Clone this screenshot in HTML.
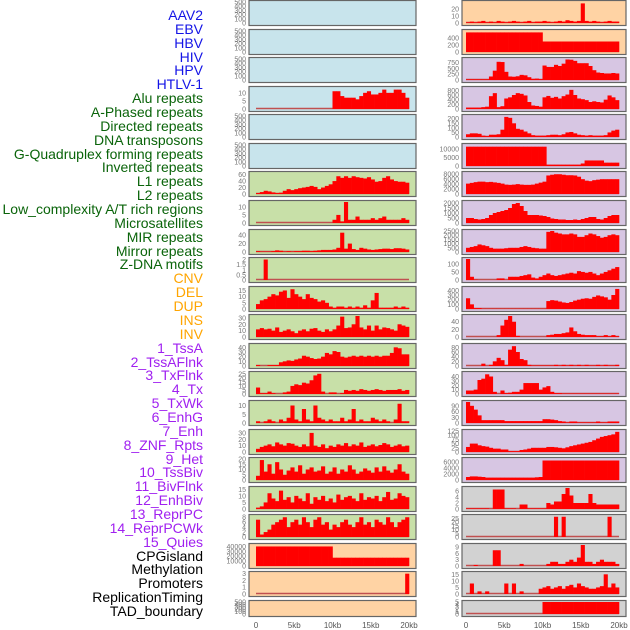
<!DOCTYPE html>
<html><head><meta charset="utf-8">
<style>
body{margin:0;background:#fff;width:630px;height:630px;overflow:hidden;position:relative;font-family:"Liberation Sans",sans-serif}
#labels div{position:absolute;right:427px;font-size:14px;line-height:14px;white-space:nowrap}
svg{position:absolute;left:0;top:0}
</style></head><body>
<div id="labels"></div>
<svg id="chart" width="630" height="630"></svg>
<script>
const trackNames=["AAV2","EBV","HBV","HIV","HPV","HTLV-1","Alu repeats","A-Phased repeats","Directed repeats","DNA transposons","G-Quadruplex forming repeats","Inverted repeats","L1 repeats","L2 repeats","Low_complexity A/T rich regions","Microsatellites","MIR repeats","Mirror repeats","Z-DNA motifs","CNV","DEL","DUP","INS","INV","1_TssA","2_TssAFlnk","3_TxFlnk","4_Tx","5_TxWk","6_EnhG","7_Enh","8_ZNF_Rpts","9_Het","10_TssBiv","11_BivFlnk","12_EnhBiv","13_ReprPC","14_ReprPCWk","15_Quies","CPGisland","Methylation","Promoters","ReplicationTiming","TAD_boundary"];
const labelGroups=[6,13,5,15,5];
const groupColors=["#1414e6","#0a640a","#ffa500","#a020f0","#000"];
const xTicks=[0,5,10,15,20];
const xTickLabels=["0","5kb","10kb","15kb","20kb"];
const Z=n=>Array(n).fill(0);
// left column
const leftMax=[500,500,500,13,500,500,65,13,50,2.05,17,33,45,26,12,33,20,16,8.5,43000,3.1,500];
const leftTicks=[[0,100,200,300,400,500],[0,100,200,300,400,500],[0,100,200,300,400,500],[0,5,10],[0,100,200,300,400,500],[0,100,200,300,400,500],[0,20,40,60],[0,5,10],[0,20,40],[0,0.5,1,1.5,2],[0,5,10,15],[0,10,20,30],[0,10,20,30,40],[0,5,10,15,20,25],[0,5,10],[0,10,20,30],[0,5,10,15,20],[0,5,10,15],[0,2,4,6,8],[0,10000,20000,30000,40000],[0,1,2,3],[0,100,200,300,400,500]];
const leftData=[Z(40),Z(40),Z(40),
Z(20).concat([11,11,8,7,7,7,6,8,10,11,9,9,10,12,10,10,12,12,10,7]),
Z(40),Z(40),
[3,6,10,8,5,3,4,10,15,12,15,18,20,22,25,22,15,20,25,30,40,55,50,55,50,55,52,50,48,52,45,38,40,50,55,45,40,38,38,35],
Z(20).concat([2,5,1,13,2,2,4,2,2,2,3,2,3,4,2,2,2,2,3,2]),
[2,1,1,1,2,4,3,1,2,1,2,2,3,3,2,3,4,5,5,5,6,10,46,8,20,7,5,10,8,6,5,6,7,8,8,7,9,9,8,6],
[0,0,2,0,0,0,0,0,0,0,0,0,0,0,0,0,0,0,0,0,0,0,0,0,0,0,0,0,0,0,0,0,0,0,0,0,0,0,0,0],
[4,7,8,10,12,11,14,15,9,16,12,10,8,12,9,8,6,7,5,2,1,2,2,1,2,1,2,1,3,1,7,13,1,1,1,1,2,1,2,1],
[12,14,12,13,10,15,8,10,12,9,6,10,12,9,13,14,10,8,12,9,12,18,32,14,15,20,33,15,12,18,10,18,12,15,14,12,10,20,18,16],
[2,0,0,2,2,2,8,10,12,11,14,16,22,20,17,15,16,20,28,25,32,30,20,18,20,22,20,22,20,22,20,22,20,22,22,28,40,38,25,25],
[8,1,1,3,1,0,0,2,3,10,12,11,14,13,17,23,25,3,0,2,2,0,1,5,4,5,4,6,5,4,5,6,5,4,5,5,5,6,4,5],
[1,0,1,2,1,0,2,1,3,10,2,1,8,2,1,10,3,2,1,2,1,1,3,1,2,8,1,2,1,1,3,2,1,2,1,0,2,11,1,1],
[5,8,10,12,9,15,12,10,14,13,10,8,12,9,30,10,8,12,6,10,8,12,10,14,9,12,10,15,8,10,12,9,11,14,12,8,10,12,9,10],
[4,19,8,15,6,17,10,5,9,12,8,14,6,10,12,8,9,13,6,8,12,6,10,8,14,10,6,8,11,9,7,12,8,13,9,7,10,15,8,6],
[1,2,5,12,8,6,14,7,9,5,10,8,6,12,4,9,7,10,6,8,5,11,7,9,10,8,6,12,7,9,8,10,6,9,13,7,8,12,10,9],
[7,1,2,3,5,6,7,8,4,6,7,5,8,6,4,7,8,5,6,3,5,4,6,7,5,4,6,8,5,6,4,7,6,5,8,6,4,6,7,8],
Array(20).fill(40000).concat(Array(20).fill(17000)),
Z(39).concat([3]),
Z(40)];
// right column
const rightMax=[30,600,900,900,230,12500,8500,2100,2500,130,450,55,90,48,110,125,7000,7,28,10,16,5];
const rightTicks=[[0,10,20],[0,200,400],[0,250,500,750],[0,200,400,600,800],[0,50,100,150,200],[0,5000,10000],[0,2000,4000,6000,8000],[0,500,1000,1500,2000],[0,500,1000,1500,2000,2500],[0,50,100],[0,100,200,300,400],[0,20,40],[0,20,40,60,80],[0,10,20,30,40],[0,30,60,90],[0,25,50,75,100,125],[0,2000,4000,6000],[0,2,4,6],[0,5,10,15,20,25],[0,3,6,9],[0,5,10,15],[0,1,2,3,4,5]];
const rightData=[
[1,2,1,2,3,1,2,1,3,2,1,2,3,2,1,2,3,1,2,2,3,2,1,2,3,2,4,3,2,3,28,3,2,3,2,1,2,3,2,2],
Array(20).fill(560).concat(Array(20).fill(300)),
[30,30,30,30,30,30,150,400,780,770,350,150,140,160,220,200,120,50,60,40,620,560,560,650,600,700,880,870,820,720,720,720,600,420,320,300,280,280,300,280],
[60,60,60,60,80,100,550,680,80,120,450,500,600,680,650,580,300,150,130,100,500,560,480,520,450,550,620,820,600,450,420,380,300,330,300,280,400,580,500,380],
[30,40,40,35,15,10,25,25,30,80,220,210,150,90,80,60,40,20,15,15,15,20,25,25,20,30,50,55,40,25,20,15,20,15,15,15,20,50,70,80],
Array(21).fill(11500).concat([800,800,800,800,800,800,800,800,800,1500,3300,3300,3300,3300,3300,2000,2000,2000,2000]),
[4200,4500,4800,5000,5000,4800,4900,4700,4500,4200,3800,3700,3800,4000,3800,3700,3700,3800,4200,4600,5000,7500,7800,8000,8000,7800,7600,7600,7500,7000,6000,5400,5200,5600,5800,6000,6000,6000,6000,6000],
[500,500,400,350,400,500,800,1000,1100,1200,1300,1500,1900,2000,1700,1200,800,800,800,750,700,600,450,400,350,350,300,300,350,300,400,500,600,600,400,350,500,700,800,800],
[500,600,700,900,800,700,500,400,400,400,450,500,500,500,600,700,600,500,450,400,400,2400,2500,2300,2200,2100,2100,2200,2100,1800,1800,2000,2200,2100,1900,1700,1800,2000,2100,2000],
[130,20,2,0,0,0,0,0,10,10,0,20,20,20,25,30,35,15,10,20,30,40,30,25,30,35,40,45,40,55,50,45,50,40,30,40,50,60,70,80],
[230,100,20,20,5,5,5,5,5,5,5,5,5,5,5,5,5,5,5,5,5,170,190,180,160,140,130,150,180,200,220,230,220,260,290,270,250,200,300,430],
[0,0,0,0,0,0,0,0,5,30,45,55,40,3,0,0,0,0,0,0,0,5,6,8,8,10,12,25,15,8,6,5,5,5,2,2,5,2,5,2],
[0,0,0,0,10,0,5,20,35,25,5,70,85,60,30,25,5,2,2,2,2,2,2,5,2,5,2,5,2,5,2,5,2,2,5,2,5,2,2,5],
[8,8,10,32,35,45,40,5,0,8,2,3,5,5,10,25,25,25,25,10,15,18,5,2,2,1,1,1,1,1,1,1,1,1,1,1,1,1,1,1],
[110,90,70,40,15,15,15,15,15,15,10,10,10,10,10,10,10,10,10,10,20,20,18,15,10,8,3,8,8,3,3,3,3,3,8,3,3,8,8,8],
[30,50,50,40,35,32,25,20,20,15,15,5,5,5,12,15,20,25,25,25,25,30,30,28,25,22,28,35,40,45,50,55,60,70,80,90,95,100,105,120],
[1000,1200,1200,1100,1000,800,800,800,800,800,800,800,800,800,800,800,800,800,900,1000].concat(Array(20).fill(6500)),
[0.2,0.2,0.2,0.2,0.2,0.2,0,6.5,6.5,6.5,0.2,0.2,0.2,0,1.5,1.5,0.2,0.2,0.2,0.2,0.2,2,1.5,2.5,2.5,5,7,4.5,2,2,2,2,5,2,1.5,1.5,1.5,1.5,1.5,1.5],
Z(23).concat([27,0,27,0,0,0,0,0,0,0,0,0,0,0,27,0,0]),
[0,0,0.5,0,0,0,0,7.5,7.5,0,0,0,0,0,1,0,0,0,0,0,0,1,2,2,1,1,2,3,2,4,10,2,2,1,2,3,2,2,2,1],
[0,8,0,2,0,2,0,0,0,0,8,0,8,0,2,0,0,0,0,4,5,6,4,5,6,4,6,7,5,8,6,5,4,4,5,6,15,5,8,5],
Z(20).concat(Array(20).fill(5))];
const leftBg=i=>i<6?"#c8e4ec":(i<19?"#c8e0a8":"#ffd3a4");
const rightBg=i=>i<2?"#ffd3a4":(i<17?"#d7c6e3":"#d2d2d2");

const lab=document.getElementById('labels');
let gi=0,cnt=0;
trackNames.forEach((n,i)=>{
  while(cnt>=labelGroups[gi]){cnt=0;gi++;}
  cnt++;
  const d=document.createElement('div');
  
  
  d.textContent=n;d.style.color=groupColors[gi];
  d.style.top=(8+i*13.86)+'px';
  lab.appendChild(d);
});
const svg=document.getElementById('chart');
const NS="http://www.w3.org/2000/svg";
function mk(tag,attrs,parent){const e=document.createElementNS(NS,tag);for(const k in attrs)e.setAttribute(k,attrs[k]);(parent||svg).appendChild(e);return e;}
function panel(col,i,data,ymax,ticks,bg){
  const px=col?462:249, pw=col?164:167, x0=col?466:256, x1=col?619:409;
  const top=Math.round(i*28.57), h=i==21?16:25;
  const g=mk('g',{});
  
  
  mk('rect',{x:px,y:top+0.5,width:pw,height:h,fill:bg,stroke:'#666','stroke-width':1.2},g);
  const yb=top+h-2, yt=top+2;
  const ys=v=>yb-(v/ymax)*(yb-yt);
  const xs=kb=>x0+(kb/20)*(x1-x0);
  const bw=20/data.length;
  const hasData=data.some(v=>v>0);
  if(hasData) mk('line',{x1:xs(0),x2:xs(20),y1:yb-0.5,y2:yb-0.5,stroke:'#c05050','stroke-width':1.5},g);
  data.forEach((v,k)=>{
    if(v<=0)return;
    const r=mk('rect',{x:xs(k*bw),y:ys(v),width:xs((k+1)*bw)-xs(k*bw)+0.3,height:yb-ys(v),fill:'#ff0000'},g);
    
    
  });
  ticks.forEach(t=>{
    const tx=mk('text',{x:px-3,y:ys(t)+2.5,'font-size':7,'text-anchor':'end',fill:'#777'},g);
    tx.textContent=t;
  });
}
for(let i=0;i<22;i++){
  panel(0,i,leftData[i],leftMax[i],leftTicks[i],leftBg(i));
  panel(1,i,rightData[i],rightMax[i],rightTicks[i],rightBg(i));
}
[[256,409],[466,619]].forEach(([a,b],c)=>{
  xTicks.forEach((t,k)=>{
    const tx=mk('text',{x:a+(t/20)*(b-a),y:628,'font-size':8,'text-anchor':'middle',fill:'#555'});
    
    
    tx.textContent=xTickLabels[k];
  });
});
</script>
</body></html>
